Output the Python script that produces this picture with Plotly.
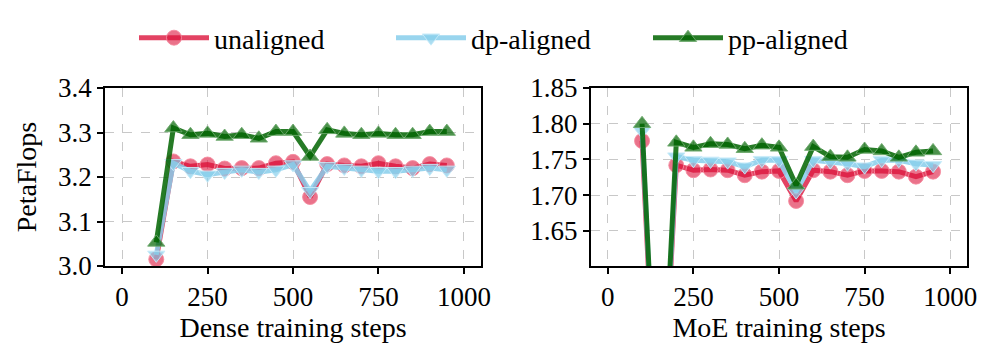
import plotly.graph_objects as go

# passos de treino
steps = [100, 150, 200, 250, 300, 350, 400, 450, 500, 550,
         600, 650, 700, 750, 800, 850, 900, 950]

# Dense (PetaFlops)
dense_unaligned = [3.015, 3.235, 3.224, 3.228, 3.219, 3.220, 3.220, 3.231, 3.234, 3.155,
                   3.229, 3.226, 3.224, 3.231, 3.224, 3.220, 3.229, 3.226]
dense_dp = [3.025, 3.231, 3.213, 3.205, 3.211, 3.216, 3.211, 3.216, 3.228, 3.168,
            3.224, 3.220, 3.216, 3.213, 3.213, 3.216, 3.220, 3.216]
dense_pp = [3.053, 3.310, 3.295, 3.298, 3.291, 3.295, 3.287, 3.302, 3.302, 3.246,
            3.306, 3.298, 3.295, 3.298, 3.295, 3.295, 3.302, 3.302]

# MoE (PetaFlops)
moe_unaligned = [1.776, 1.29, 1.742, 1.735, 1.736, 1.735, 1.728, 1.733, 1.734, 1.692,
                 1.735, 1.733, 1.728, 1.734, 1.734, 1.733, 1.726, 1.733]
moe_dp = [1.790, 1.30, 1.754, 1.749, 1.748, 1.747, 1.740, 1.749, 1.749, 1.705,
          1.749, 1.747, 1.744, 1.740, 1.749, 1.749, 1.744, 1.742]
moe_pp = [1.800, 1.30, 1.774, 1.767, 1.772, 1.771, 1.765, 1.770, 1.767, 1.714,
          1.768, 1.754, 1.753, 1.764, 1.762, 1.753, 1.760, 1.762]

series = [
    ('unaligned', 'circle', 'rgba(220,20,60,0.8)', 'rgba(220,20,60,0.6)', 'rgba(245,140,160,0.9)'),
    ('dp-aligned', 'triangle-down', 'rgba(135,206,235,0.85)', 'rgba(135,206,235,0.7)', 'rgba(200,235,250,0.9)'),
    ('pp-aligned', 'triangle-up', 'rgba(0,100,0,0.85)', 'rgba(0,100,0,0.7)', 'rgba(110,170,110,0.9)'),
]

familia = 'Liberation Serif, Times New Roman, serif'
fonte = dict(family=familia, size=27, color='black')
fonte_titulo = dict(family=familia, size=28, color='black')

fig = go.Figure()

for (nome, simbolo, cor_linha, cor_marca, cor_borda), yd, ym in zip(
        series, [dense_unaligned, dense_dp, dense_pp], [moe_unaligned, moe_dp, moe_pp]):
    estilo = dict(mode='lines+markers',
                  line=dict(color=cor_linha, width=5),
                  marker=dict(symbol=simbolo, size=15, color=cor_marca,
                              line=dict(color=cor_borda, width=1)))
    fig.add_trace(go.Scatter(x=steps, y=yd, name=nome, xaxis='x', yaxis='y',
                             legendgroup=nome, **estilo))
    fig.add_trace(go.Scatter(x=steps, y=ym, name=nome, xaxis='x2', yaxis='y2',
                             legendgroup=nome, showlegend=False, **estilo))

eixo = dict(showline=True, linecolor='black', linewidth=1.5, mirror=True,
            ticks='outside', ticklen=6, tickwidth=1.5, tickcolor='black',
            showgrid=True, gridcolor='#c8c8c8', griddash='dash', gridwidth=1,
            zeroline=False, tickfont=fonte)

# a página tem 8px de margem no body
off = 8
px = lambda v: (v - off) / 996
py = lambda v: 1 - (v - off) / 362

fig.update_layout(
    width=996, height=362,
    margin=dict(l=0, r=0, t=0, b=0, autoexpand=False),
    plot_bgcolor='white', paper_bgcolor='white',
    font=fonte,
    showlegend=True,
    legend=dict(orientation='h', x=px(134), xanchor='left', y=py(38), yanchor='middle',
                font=dict(family=familia, size=28), itemwidth=70,
                entrywidth=172, entrywidthmode='pixels',
                tracegroupgap=0, bgcolor='rgba(0,0,0,0)'),
    xaxis=dict(domain=[px(105), px(481)], range=[-50, 1050],
               tickvals=[0, 250, 500, 750, 1000],
               title=dict(text='Dense training steps', font=fonte_titulo, standoff=0),
               anchor='y', **eixo),
    yaxis=dict(domain=[py(266), py(88)], range=[3.0, 3.4],
               tickvals=[3.0, 3.1, 3.2, 3.3, 3.4], tickformat='.1f',
               title=dict(text='PetaFlops', font=fonte_titulo, standoff=13),
               anchor='x', **eixo),
    xaxis2=dict(domain=[px(590.7), px(967.3)], range=[-50, 1050],
                tickvals=[0, 250, 500, 750, 1000],
                title=dict(text='MoE training steps', font=fonte_titulo, standoff=0),
                anchor='y2', **eixo),
    yaxis2=dict(domain=[py(266), py(88)], range=[1.601, 1.85],
                tickvals=[1.65, 1.70, 1.75, 1.80, 1.85], tickformat='.2f',
                anchor='x2', **eixo),
)

fig.write_html('out.html')
